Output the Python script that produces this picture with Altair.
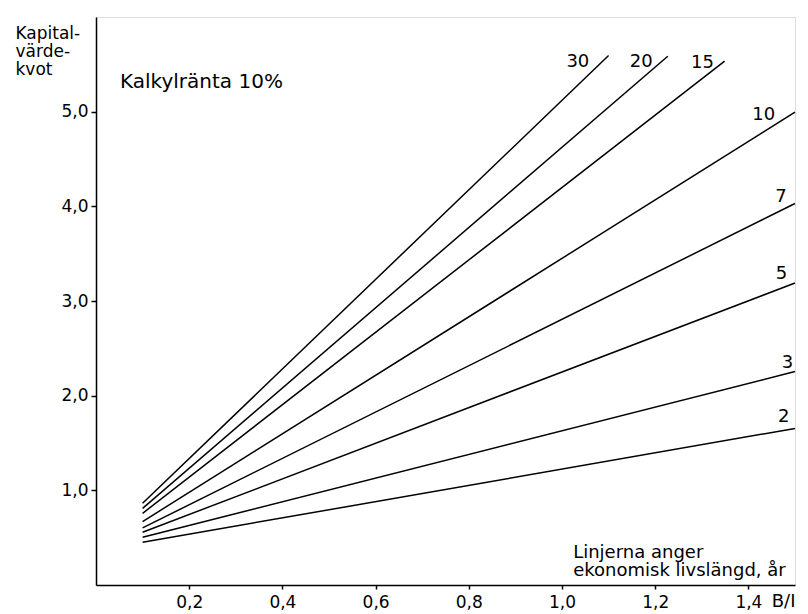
import altair as alt
import pandas as pd

# lifetimes (years) and straight-line end points
life = [2, 3, 5, 7, 10, 15, 20, 30]
x_start = [0.1, 0.1, 0.1, 0.1, 0.1, 0.1, 0.1, 0.1]
y_start = [0.451, 0.504, 0.557, 0.603, 0.670, 0.757, 0.810, 0.863]
x_end = [1.5, 1.5, 1.5, 1.5, 1.5, 1.349, 1.227, 1.100]
y_end = [1.654, 2.255, 3.19, 4.03, 4.995, 5.533, 5.585, 5.593]

# label anchors (data units)
lab_x = [1.476, 1.484, 1.471, 1.470, 1.433, 1.3015, 1.170, 1.034]
lab_y = [1.775, 2.34, 3.28, 4.10, 4.96, 5.51, 5.52, 5.52]

x_ticks = [0.2, 0.4, 0.6, 0.8, 1.0, 1.2, 1.4]
y_ticks = [1.0, 2.0, 3.0, 4.0, 5.0]

FONT = "DejaVu Sans, sans-serif"

rows = []
for n, xs, ys, xe, ye in zip(life, x_start, y_start, x_end, y_end):
    rows.append({"life": n, "x": xs, "y": ys})
    rows.append({"life": n, "x": xe, "y": ye})
lines_df = pd.DataFrame(rows)
labels_df = pd.DataFrame({"life": [str(n) for n in life], "x": lab_x, "y": lab_y})

xscale = alt.Scale(domain=[0, 1.5], nice=False, zero=False)
yscale = alt.Scale(domain=[0, 6], nice=False, zero=False)

comma = "replace(format(datum.value, '.1f'), '.', ',')"

base = alt.Chart(lines_df)
lines = base.mark_line(color="black", strokeWidth=1.5).encode(
    x=alt.X("x:Q", scale=xscale,
            axis=alt.Axis(values=x_ticks, labelExpr=comma, title="B/I",
                          titleX=699, titleY=21, titleAlign="right",
                          titleBaseline="alphabetic", titleFontWeight="normal",
                          titleFontSize=18, titleFont=FONT, titleColor="black",
                          labelFont=FONT, labelFontSize=17, labelColor="black",
                          domainColor="black", domainWidth=1.5,
                          tickColor="black", tickWidth=1.5,
                          tickSize=4, labelPadding=5, grid=False)),
    y=alt.Y("y:Q", scale=yscale,
            axis=alt.Axis(values=y_ticks, labelExpr=comma,
                          title=["Kapital-", "värde-", "kvot"],
                          titleAngle=0, titleX=-81, titleY=21,
                          titleAlign="left", titleBaseline="alphabetic",
                          titleLineHeight=18, titleFontWeight="normal",
                          titleFontSize=17, titleFont=FONT, titleColor="black",
                          labelFont=FONT, labelFontSize=17, labelColor="black",
                          domainColor="black", domainWidth=1.5,
                          tickColor="black", tickWidth=1.5,
                          tickSize=5, labelPadding=3, grid=False)),
    detail="life:N",
)

labels = alt.Chart(labels_df).mark_text(
    font=FONT, fontSize=18, color="black", align="center", baseline="middle"
).encode(x=alt.X("x:Q", scale=xscale), y=alt.Y("y:Q", scale=yscale), text="life:N")

note_df = pd.DataFrame({"x": [0.0515], "y": [5.245], "t": ["Kalkylränta 10%"]})
note = alt.Chart(note_df).mark_text(
    font=FONT, fontSize=20, color="black", align="left", baseline="alphabetic"
).encode(x=alt.X("x:Q", scale=xscale), y=alt.Y("y:Q", scale=yscale), text="t:N")

legend_df = pd.DataFrame({"x": [1.024], "y": [0.29],
                          "t": [["Linjerna anger", "ekonomisk livslängd, år"]]})
legend_note = alt.Chart(legend_df).mark_text(
    font=FONT, fontSize=18, color="black", align="left", baseline="alphabetic",
    lineHeight=18.5
).encode(x=alt.X("x:Q", scale=xscale), y=alt.Y("y:Q", scale=yscale), text="t")

chart = alt.layer(lines, labels, note, legend_note).properties(
    width=699, height=568,
    autosize=alt.AutoSizeParams(type="none"),
    padding={"left": 88, "top": 9, "right": 5, "bottom": 25},
).configure_view(stroke=None).configure(background="white")

chart.save("out.html", embed_options={"renderer": "svg", "actions": False})
